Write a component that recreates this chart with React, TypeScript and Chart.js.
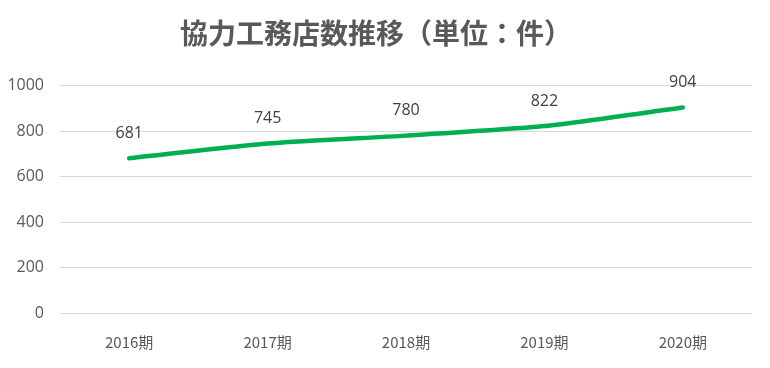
import React, { useEffect, useRef } from "react";
import { Chart, registerables } from "chart.js";

Chart.register(...registerables);

const categories = ["2016期", "2017期", "2018期", "2019期", "2020期"];
const storeCounts = [681, 745, 780, 822, 904];
const titleText = "協力工務店数推移（単位：件）";
const yMin = 0;
const yMax = 1000;
const yStep = 200;

const labelPlugin = {
  id: "pointLabels",
  afterDatasetsDraw(chart: any) {
    const ctx = chart.ctx;
    const meta = chart.getDatasetMeta(0);
    ctx.save();
    ctx.font = "16px 'Open Sans', 'Noto Sans', sans-serif";
    ctx.fillStyle = "#404040";
    ctx.textAlign = "center";
    ctx.textBaseline = "middle";
    meta.data.forEach((pt: any, i: number) => {
      ctx.fillText(String(storeCounts[i]), pt.x, pt.y - 25);
    });
    ctx.restore();
  },
};

export default function App() {
  const ref = useRef<HTMLCanvasElement>(null);
  useEffect(() => {
    if (!ref.current) return;
    const chart = new Chart(ref.current, {
      type: "line",
      data: {
        labels: categories,
        datasets: [
          {
            data: storeCounts,
            borderColor: "#00B050",
            borderWidth: 4.5,
            pointRadius: 0,
            tension: 0.2,
            borderCapStyle: "round",
            fill: false,
          },
        ],
      },
      options: {
        animation: false,
        responsive: false,
        maintainAspectRatio: false,
        layout: { padding: { left: 0, right: 18, top: 0, bottom: 0 } },
        plugins: {
          legend: { display: false },
          tooltip: { enabled: false },
          title: {
            display: true,
            text: titleText,
            color: "#595959",
            font: { size: 28, weight: "bold", family: "'Noto Sans CJK JP', sans-serif" },
            padding: { top: 17, bottom: 35 },
          },
        },
        scales: {
          x: {
            offset: true,
            afterFit: (s: any) => {
              s.height = 55;
            },
            grid: { display: false, drawTicks: false },
            border: { display: false },
            ticks: {
              color: "#595959",
              padding: 20,
              maxRotation: 0,
              font: { size: 15, family: "'Noto Sans CJK JP', sans-serif" },
            },
          },
          y: {
            min: yMin,
            max: yMax,
            afterFit: (s: any) => {
              s.width = 60;
            },
            grid: { color: "#d9d9d9", lineWidth: 1, drawTicks: false },
            border: { display: false },
            ticks: {
              stepSize: yStep,
              color: "#595959",
              padding: 16,
              callback: (v: any) => String(v),
              font: { size: 16, family: "'Open Sans', 'Noto Sans', sans-serif" },
            },
          },
        },
      },
      plugins: [labelPlugin],
    });
    return () => chart.destroy();
  }, []);
  return (
    <div style={{ position: "absolute", left: 0, top: 0, width: 770, height: 368, background: "#fff" }}>
      <canvas ref={ref} width={770} height={368} />
    </div>
  );
}
